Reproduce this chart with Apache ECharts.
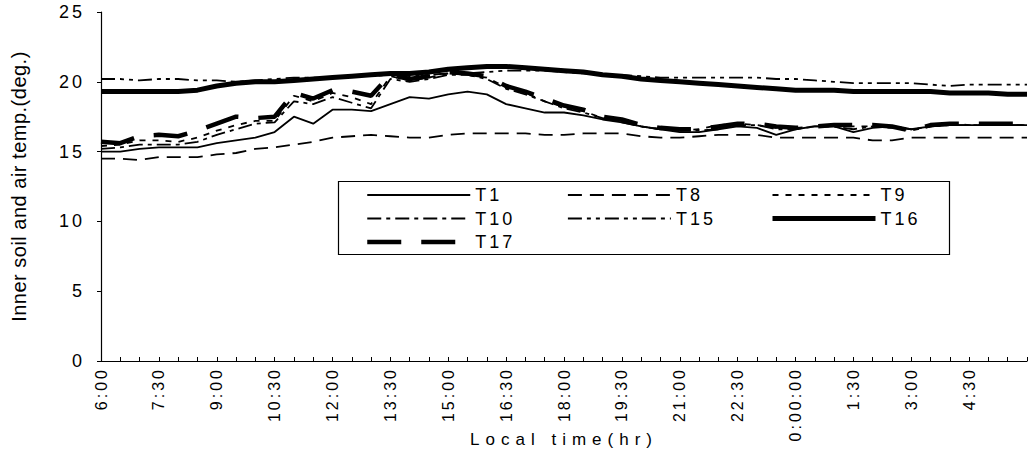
<!DOCTYPE html>
<html>
<head>
<meta charset="utf-8">
<title>Inner soil and air temp.</title>
<script src="https://cdn.jsdelivr.net/npm/echarts@6/dist/echarts.min.js"></script>
<style>
  html, body { margin: 0; padding: 0; background: #fff; }
  #main { width: 1030px; height: 458px; }
  /* the scanned chart uses wide letter spacing; svg text lets css do it */
  #main text { letter-spacing: 3px; }
  #main text[style*="20px"] { letter-spacing: 0.5px; }
  #main text[style*="17px"] { letter-spacing: 6px; }
</style>
</head>
<body>
<div id="main"></div>
<script>
  // categories, every 30 min from 6:00 to 6:00 next day
  var times = ['6:00', '6:30', '7:00', '7:30', '8:00', '8:30', '9:00', '9:30', '10:00', '10:30',
    '11:00', '11:30', '12:00', '12:30', '13:00', '13:30', '14:00', '14:30', '15:00', '15:30',
    '16:00', '16:30', '17:00', '17:30', '18:00', '18:30', '19:00', '19:30', '20:00', '20:30',
    '21:00', '21:30', '22:00', '22:30', '23:00', '23:30', '0:00:00', '0:30', '1:00', '1:30',
    '2:00', '2:30', '3:00', '3:30', '4:00', '4:30', '5:00', '5:30', '6:00'];

  var t1 = [15.0, 15.0, 15.2, 15.3, 15.3, 15.3, 15.6, 15.8, 16.0, 16.4, 17.5, 17.0, 18.0, 18.0, 17.9, 18.4,
    18.9, 18.8, 19.1, 19.3, 19.1, 18.4, 18.1, 17.8, 17.8, 17.6, 17.3, 17.1, 16.8, 16.6, 16.4, 16.4,
    16.6, 16.8, 16.7, 16.2, 16.6, 16.8, 16.8, 16.4, 16.7, 16.8, 16.6, 16.8, 16.9, 16.9, 16.9, 16.9, 16.9];
  var t8 = [14.5, 14.5, 14.4, 14.6, 14.6, 14.6, 14.8, 14.9, 15.2, 15.3, 15.5, 15.7, 16.0, 16.1, 16.2, 16.1,
    16.0, 16.0, 16.2, 16.3, 16.3, 16.3, 16.3, 16.2, 16.2, 16.3, 16.3, 16.3, 16.1, 16.0, 16.0, 16.1,
    16.2, 16.2, 16.2, 16.0, 16.0, 16.0, 16.0, 16.0, 15.8, 15.8, 16.0, 16.0, 16.0, 16.0, 16.0, 16.0, 16.0];
  var t9 = [15.4, 15.5, 15.8, 15.8, 15.7, 16.0, 16.5, 16.9, 17.2, 17.2, 19.0, 18.6, 19.2, 18.9, 18.4, 20.4,
    20.1, 20.3, 20.6, 20.5, 20.3, 19.6, 19.2, 18.6, 18.2, 17.9, 17.4, 17.2, 16.8, 16.6, 16.5, 16.6,
    16.9, 17.0, 16.9, 16.7, 16.7, 16.8, 16.8, 16.8, 16.8, 16.7, 16.5, 16.8, 17.0, 16.9, 16.9, 16.9, 16.9];
  var t10 = [15.2, 15.3, 15.5, 15.5, 15.5, 15.7, 16.2, 16.6, 17.0, 17.1, 18.6, 18.4, 18.9, 18.5, 18.1, 20.2,
    20.0, 20.2, 20.5, 20.5, 20.2, 19.5, 19.1, 18.6, 18.1, 17.8, 17.4, 17.1, 16.8, 16.6, 16.5, 16.5,
    16.6, 16.9, 16.9, 16.6, 16.6, 16.8, 16.8, 16.6, 16.8, 16.8, 16.6, 16.8, 16.9, 16.9, 16.9, 16.9, 16.9];
  var t15 = [20.2, 20.2, 20.1, 20.2, 20.2, 20.1, 20.1, 20.0, 20.1, 20.2, 20.3, 20.3, 20.3, 20.4, 20.4, 20.5,
    20.4, 20.5, 20.6, 20.6, 20.7, 20.8, 20.8, 20.8, 20.7, 20.6, 20.5, 20.5, 20.4, 20.3, 20.3, 20.3,
    20.3, 20.3, 20.3, 20.2, 20.2, 20.1, 20.0, 19.9, 19.9, 19.9, 19.9, 19.8, 19.7, 19.8, 19.8, 19.8, 19.8];
  var t16 = [19.3, 19.3, 19.3, 19.3, 19.3, 19.4, 19.7, 19.9, 20.0, 20.0, 20.1, 20.2, 20.3, 20.4, 20.5, 20.6,
    20.6, 20.7, 20.9, 21.0, 21.1, 21.1, 21.0, 20.9, 20.8, 20.7, 20.5, 20.4, 20.2, 20.1, 20.0, 19.9,
    19.8, 19.7, 19.6, 19.5, 19.4, 19.4, 19.4, 19.3, 19.3, 19.3, 19.3, 19.3, 19.2, 19.2, 19.2, 19.1, 19.1];
  var t17 = [15.7, 15.6, 16.1, 16.2, 16.1, 16.5, 17.0, 17.5, 17.4, 17.5, 19.2, 18.8, 19.4, 19.3, 19.0, 20.5,
    20.2, 20.4, 20.7, 20.6, 20.4, 19.7, 19.3, 18.8, 18.3, 18.0, 17.5, 17.3, 16.9, 16.7, 16.6, 16.6,
    16.8, 17.0, 17.0, 16.8, 16.7, 16.8, 16.9, 16.9, 16.9, 16.8, 16.5, 16.9, 17.0, 17.0, 17.0, 17.0, 17.0];

  var yTicks = [0, 5, 10, 15, 20, 25];
  var yName = 'Inner soil and air temp.(deg.)';
  var xName = 'Local time(hr)';

  var font = 'Liberation Sans, Arial, sans-serif';

  function makeSeries(name, data, width, dash) {
    return {
      name: name,
      type: 'line',
      data: data,
      symbol: 'none',
      smooth: false,
      z: width > 2 ? 3 : 2,
      itemStyle: { color: 'rgba(0,0,0,0)' },
      lineStyle: { color: '#000', width: width, type: dash }
    };
  }

  function makeLegend(names, left) {
    return {
      data: names,
      orient: 'vertical',
      left: left,
      top: 186,
      padding: 0,
      itemWidth: 103,
      itemHeight: 14,
      itemGap: 5.5,
      itemStyle: { color: 'rgba(0,0,0,0)', borderColor: 'rgba(0,0,0,0)', borderWidth: 0 },
      lineStyle: { width: 'inherit', type: 'inherit', color: '#000' },
      textStyle: { color: '#000', fontSize: 18, fontFamily: font, lineHeight: 18 }
    };
  }

  var chart = echarts.init(document.getElementById('main'), null, { renderer: 'svg' });

  var option = {
    animation: false,
    backgroundColor: '#fff',
    grid: { left: 101, right: 3, top: 12, bottom: 97 },
    legend: [
      makeLegend(['T1', 'T10', 'T17'], 365),
      makeLegend(['T8', 'T15'], 567),
      makeLegend(['T9', 'T16'], 770)
    ],
    graphic: [{
      type: 'rect',
      shape: { x: 338.5, y: 181.5, width: 611, height: 73 },
      style: { fill: 'none', stroke: '#000', lineWidth: 1.2 },
      z: 1
    }],
    xAxis: {
      type: 'category',
      data: times,
      boundaryGap: false,
      name: xName,
      nameLocation: 'middle',
      nameGap: 70,
      nameTextStyle: { color: '#000', fontSize: 17, fontFamily: font },
      axisLine: { lineStyle: { color: '#000', width: 1.2 } },
      axisTick: { show: true, interval: 0, inside: true, length: 4, lineStyle: { color: '#000' } },
      axisLabel: {
        // every 1.5 hr, the closing 6:00 is not labelled
        interval: function (i) { return i % 3 === 0 && i < times.length - 1; },
        rotate: 90,
        margin: 6,
        color: '#000',
        fontSize: 16,
        fontFamily: font
      },
      splitLine: { show: false }
    },
    yAxis: {
      type: 'value',
      min: yTicks[0],
      max: yTicks[yTicks.length - 1],
      interval: 5,
      name: yName,
      nameLocation: 'middle',
      nameGap: 72,
      nameRotate: 90,
      nameTextStyle: { color: '#000', fontSize: 20, fontFamily: font },
      axisLine: { show: true, lineStyle: { color: '#000', width: 1.2 } },
      axisTick: { show: true, length: 4, lineStyle: { color: '#000' } },
      axisLabel: { margin: 16, color: '#000', fontSize: 18, fontFamily: font },
      splitLine: { show: false }
    },
    series: [
      makeSeries('T1', t1, 1.8, 'solid'),
      makeSeries('T8', t8, 1.8, [14, 8]),
      makeSeries('T9', t9, 1.8, [6, 7]),
      makeSeries('T10', t10, 1.8, [14, 5, 4, 5]),
      makeSeries('T15', t15, 1.8, [14, 5, 4, 5, 4, 5]),
      makeSeries('T16', t16, 5, 'solid'),
      makeSeries('T17', t17, 4.5, [34, 20])
    ]
  };

  chart.setOption(option);
</script>
</body>
</html>
